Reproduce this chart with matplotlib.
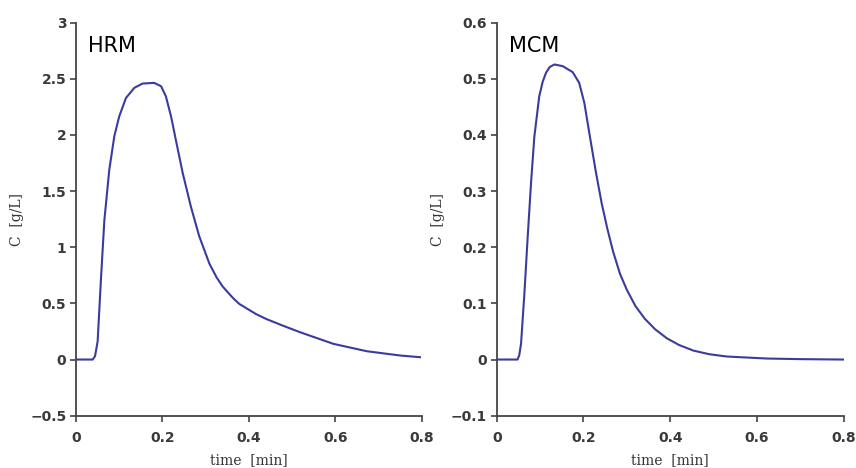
import matplotlib
matplotlib.use("Agg")
import matplotlib.pyplot as plt

# HRM curve (time [min], C [g/L])
hrm_t = [0.0, 0.0386, 0.044, 0.050, 0.058, 0.0656, 0.077, 0.0887, 0.100, 0.1157, 0.135, 0.154, 0.181,
         0.197, 0.208, 0.220, 0.231, 0.247, 0.266, 0.285, 0.3086, 0.3256, 0.3395, 0.364, 0.378,
         0.4166, 0.441, 0.48, 0.518, 0.5955, 0.673, 0.750, 0.796]
hrm_c = [0.0, 0.0, 0.03, 0.16, 0.735, 1.24, 1.69, 1.99, 2.165, 2.33, 2.42, 2.458, 2.464,
         2.434, 2.344, 2.165, 1.957, 1.66, 1.36, 1.10, 0.855, 0.73, 0.65, 0.545, 0.495,
         0.405, 0.36, 0.30, 0.244, 0.14, 0.074, 0.036, 0.021]

# MCM curve
mcm_t = [0.0, 0.048, 0.052, 0.056, 0.0637, 0.0714, 0.079, 0.0867, 0.098, 0.106, 0.1137, 0.122, 0.133,
         0.152, 0.175, 0.190, 0.202, 0.2135, 0.229, 0.242, 0.255, 0.268, 0.284, 0.3, 0.32, 0.341,
         0.365, 0.392, 0.42, 0.453, 0.49, 0.530, 0.6225, 0.70, 0.799]
mcm_c = [0.0, 0.0, 0.008, 0.028, 0.117, 0.219, 0.314, 0.397, 0.469, 0.495, 0.511, 0.521, 0.5256,
         0.5226, 0.512, 0.493, 0.457, 0.403, 0.332, 0.278, 0.233, 0.193, 0.153, 0.124, 0.095, 0.073,
         0.054, 0.038, 0.026, 0.016, 0.0095, 0.0054, 0.0018, 0.0007, 0.0]

x_ticks = [0, 0.2, 0.4, 0.6, 0.8]
x_ticklabels = ["0", "0.2", "0.4", "0.6", "0.8"]
hrm_yticks = [-0.5, 0, 0.5, 1, 1.5, 2, 2.5, 3]
hrm_yticklabels = ["\u22120.5", "0", "0.5", "1", "1.5", "2", "2.5", "3"]
mcm_yticks = [-0.1, 0, 0.1, 0.2, 0.3, 0.4, 0.5, 0.6]
mcm_yticklabels = ["\u22120.1", "0", "0.1", "0.2", "0.3", "0.4", "0.5", "0.6"]

line_color = "#3b3b9e"
spine_color = "#444444"

fig = plt.figure(figsize=(8.56, 4.68), dpi=100)
ax1 = fig.add_axes([0.0888, 0.1118, 0.4038, 0.8397])
ax2 = fig.add_axes([0.5803, 0.1118, 0.4054, 0.8397])

def style(ax, t, c, yticks, ylabels, ylim, name):
    ax.plot(t, c, color=line_color, lw=1.5, solid_joinstyle="round")
    ax.set_xlim(0, 0.8)
    ax.set_ylim(*ylim)
    ax.set_xticks(x_ticks)
    ax.set_xticklabels(x_ticklabels)
    ax.set_yticks(yticks)
    ax.set_yticklabels(ylabels)
    for s in ["top", "right"]:
        ax.spines[s].set_visible(False)
    for s in ["left", "bottom"]:
        ax.spines[s].set_color(spine_color)
        ax.spines[s].set_linewidth(1.3)
    ax.tick_params(direction="out", length=4, width=1.2, color=spine_color,
                   labelsize=10, labelcolor="#3a3a3a", pad=3)
    ax.tick_params(axis="x", pad=7)
    for lab in ax.get_xticklabels() + ax.get_yticklabels():
        lab.set_fontweight("bold")
    ax.set_xlabel("time  [min]", family="DejaVu Serif", fontsize=10, color="#333333", labelpad=6)
    ax.set_ylabel("C  [g/L]", family="DejaVu Serif", fontsize=10, color="#333333", labelpad=4)
    ax.text(0.035, 0.965, name, transform=ax.transAxes, fontsize=15, color="black",
            va="top", ha="left")

style(ax1, hrm_t, hrm_c, hrm_yticks, hrm_yticklabels, (-0.5, 3), "HRM")
style(ax2, mcm_t, mcm_c, mcm_yticks, mcm_yticklabels, (-0.1, 0.6), "MCM")

fig.savefig("out.png", dpi=100)
